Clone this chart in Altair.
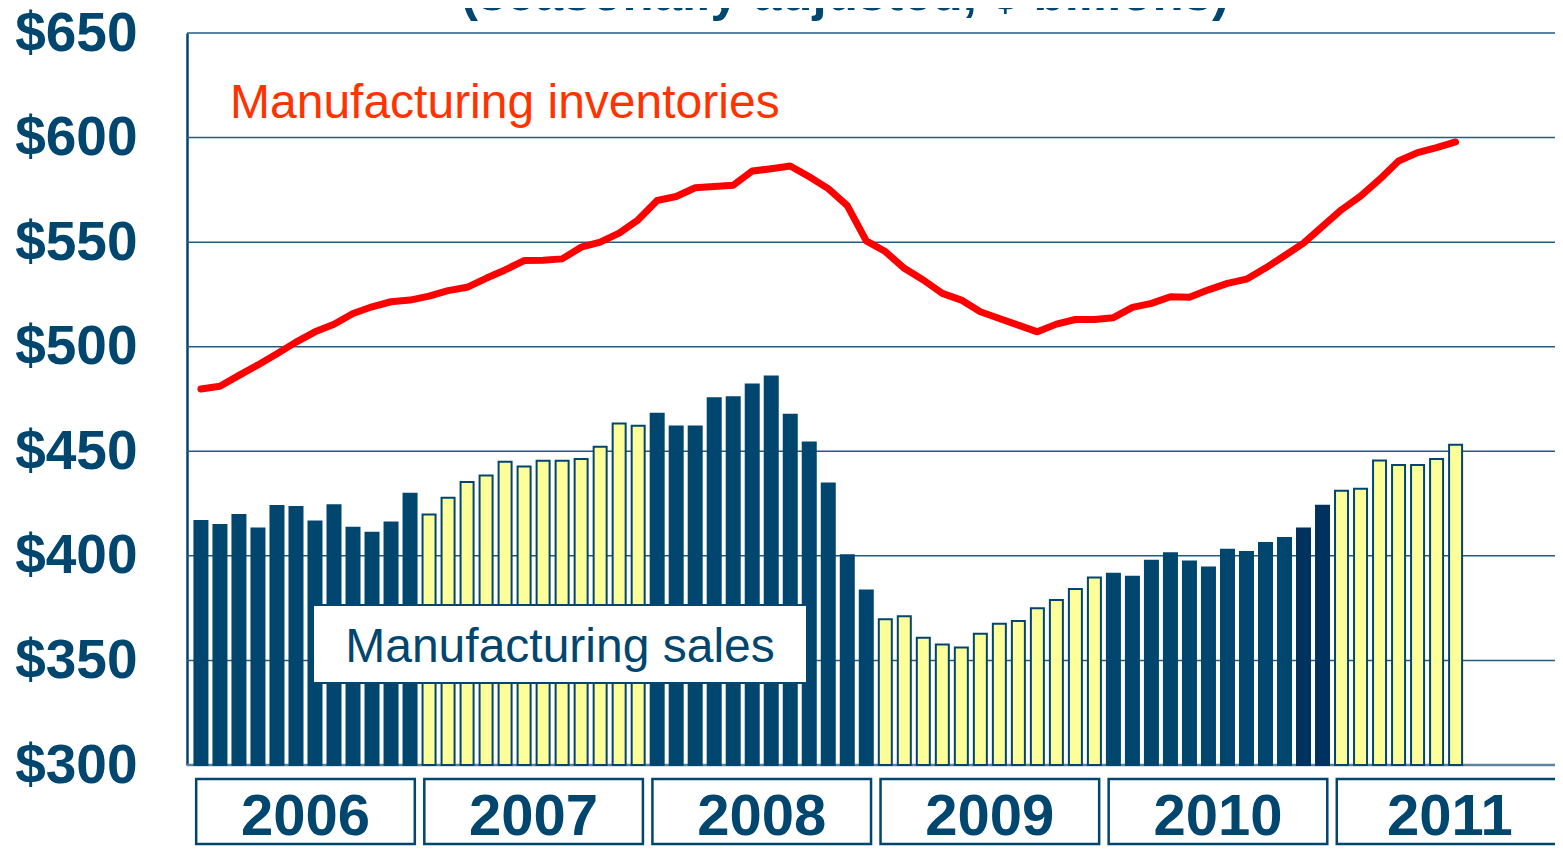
import altair as alt
import pandas as pd

# ---- data ----
years = [2006, 2007, 2008, 2009, 2010, 2011]
sales = [
    416.7, 414.8, 419.5, 413.1, 423.8, 423.4, 416.4, 424.2, 413.4, 411.0, 415.9, 429.7,   # 2006
    419.8, 427.8, 435.3, 438.4, 445.0, 442.7, 445.5, 445.5, 446.3, 452.2, 463.3, 462.2,   # 2007
    467.9, 461.9, 461.9, 475.4, 475.8, 481.9, 485.7, 467.5, 454.2, 434.6, 400.3, 383.4,   # 2008
    369.7, 371.1, 360.9, 357.6, 356.2, 362.8, 367.5, 368.9, 374.9, 378.9, 384.1, 389.7,   # 2009
    391.5, 390.0, 397.7, 401.2, 397.3, 394.4, 402.9, 401.9, 406.1, 408.5, 413.1, 423.9,   # 2010
    431.1, 432.1, 445.6, 443.4, 443.4, 446.3, 453.1,                                      # 2011
]
inventories = [
    479.8, 481.1, 486.3, 491.3, 496.6, 502.2, 507.1, 510.7, 515.9, 519.1, 521.5, 522.3,   # 2006
    524.2, 526.8, 528.4, 532.7, 536.7, 541.2, 541.3, 542.0, 547.6, 550.0, 554.3, 560.7,   # 2007
    569.9, 571.8, 576.0, 576.6, 577.2, 584.0, 585.1, 586.4, 581.3, 575.6, 567.5, 550.6,   # 2008
    545.5, 537.5, 531.9, 525.5, 522.3, 516.7, 513.5, 510.3, 507.1, 510.8, 513.0, 513.0,   # 2009
    513.9, 518.8, 520.7, 523.9, 523.6, 527.2, 530.3, 532.3, 537.6, 543.5, 549.5, 557.5,   # 2010
    565.5, 572.0, 580.0, 588.8, 592.8, 595.2, 597.9,                                      # 2011
]
darker_months = ["2010-11", "2010-12"]
y_ticks = [300, 350, 400, 450, 500, 550, 600, 650]
TITLE = "(seasonally adjusted, $ billions)"
INV_LABEL = "Manufacturing inventories"
SALES_LABEL = "Manufacturing sales"

NAVY = "#00466e"
DARKER = "#00325f"
YELLOW = "#ffff99"
RED = "#ff0000"
GRID = "#245b80"
BASELINE = "#5e829c"
FONT = "Liberation Sans"

rows = []
for i, (s, v) in enumerate(zip(sales, inventories)):
    yr = years[0] + i // 12
    mo = i % 12 + 1
    key = f"{yr}-{mo:02d}"
    if key in darker_months:
        shade = "darker"
    elif (yr - years[0]) % 2 == 0:
        shade = "dark"
    else:
        shade = "light"
    rows.append({"idx": i, "sales": s, "inv": v, "shade": shade, "base": 300})
df = pd.DataFrame(rows)

ydf = pd.DataFrame({
    "year": [str(y) for y in years],
    "x0": [12 * k - 0.25 for k in range(len(years))],
    "x1": [12 * k + 11.25 if k < len(years) - 1 else 72.5 for k in range(len(years))],
})
ydf["xc"] = [(a + b) / 2 if k < len(years) - 1 else 12 * k + 5.7
             for k, (a, b) in enumerate(zip(ydf["x0"], ydf["x1"]))]

gdf = pd.DataFrame({"v": y_ticks,
                    "kind": ["base" if t == y_ticks[0] else "grid" for t in y_ticks]})

PLOT_W = 1368
PLOT_H = 732
PAD = {"left": 179, "top": 25, "right": 0, "bottom": 81}
xscale = alt.Scale(domain=[-0.47, -0.47 + PLOT_W / 19.15], nice=False, zero=False)
yscale = alt.Scale(domain=[300, 650], nice=False, zero=False)

xaxis = alt.Axis(labels=False, ticks=False, grid=False, title=None, domain=False)
yaxis = alt.Axis(values=y_ticks, labelExpr="'$' + datum.value", title=None,
                 labelFont=FONT, labelFontSize=55, labelFontWeight="bold",
                 labelColor=NAVY, labelPadding=50, ticks=False, tickSize=0,
                 labelOverlap=False, domainColor=NAVY, domainWidth=2.5, grid=False)

# horizontal grid lines running to the right edge of the picture
grid = alt.Chart(gdf).mark_rule().encode(
    y=alt.Y("v:Q", scale=yscale, axis=yaxis),
    x=alt.value(0), x2=alt.value(PLOT_W),
    color=alt.Color("kind:N", scale=alt.Scale(domain=["grid", "base"], range=[GRID, BASELINE]),
                    legend=None),
    strokeWidth=alt.StrokeWidth("kind:N", scale=alt.Scale(domain=["grid", "base"], range=[1.5, 2.5]),
                                legend=None),
)

base = alt.Chart(df)

bars = base.mark_bar(size=13, strokeWidth=2).encode(
    x=alt.X("idx:Q", scale=xscale, axis=xaxis),
    y=alt.Y("sales:Q", scale=yscale, axis=yaxis),
    y2="base:Q",
    fill=alt.Fill("shade:N", scale=alt.Scale(domain=["dark", "darker", "light"],
                                             range=[NAVY, DARKER, YELLOW]), legend=None),
    stroke=alt.Stroke("shade:N", scale=alt.Scale(domain=["dark", "darker", "light"],
                                                 range=[NAVY, DARKER, NAVY]), legend=None),
)

line = base.mark_line(color=RED, strokeWidth=7, strokeCap="round", strokeJoin="round").encode(
    x=alt.X("idx:Q", scale=xscale, axis=xaxis),
    y=alt.Y("inv:Q", scale=yscale, axis=yaxis),
)

one = alt.Chart(pd.DataFrame({"t": [0]}))

inv_label = one.mark_text(text=INV_LABEL, font=FONT, fontSize=48, color="#ff3300",
                          align="left", baseline="alphabetic").encode(
    x=alt.value(43), y=alt.value(85))

sales_box = one.mark_rect(fill="white", stroke=NAVY, strokeWidth=2).encode(
    x=alt.value(126), x2=alt.value(620), y=alt.value(572), y2=alt.value(650))

sales_text = one.mark_text(text=SALES_LABEL, font=FONT, fontSize=48, color=NAVY,
                           align="center", baseline="alphabetic").encode(
    x=alt.value(373), y=alt.value(629))

title = one.mark_text(text=TITLE, font=FONT, fontSize=51, fontWeight="bold", color=NAVY,
                      align="center", baseline="alphabetic").encode(
    x=alt.value(658), y=alt.value(-23))

ych = alt.Chart(ydf)
year_boxes = ych.mark_rect(fill="white", stroke=NAVY, strokeWidth=2.5).encode(
    x=alt.X("x0:Q", scale=xscale, axis=xaxis), x2="x1:Q",
    y=alt.value(746), y2=alt.value(PLOT_H + PAD["bottom"] - 2))
year_text = ych.mark_text(font=FONT, fontSize=58, fontWeight="bold", color=NAVY,
                          align="center", baseline="alphabetic").encode(
    x=alt.X("xc:Q", scale=xscale, axis=xaxis), y=alt.value(802), text="year:N")

chart = alt.layer(
    grid, bars, line, inv_label, sales_box, sales_text, year_boxes, year_text, title
).resolve_scale(color="independent", stroke="independent").properties(
    width=PLOT_W, height=PLOT_H,
    autosize=alt.AutoSizeParams(type="none"),
    padding=PAD,
    background="white",
).configure_view(stroke=None)

chart.save("out.html", embed_options={"renderer": "svg", "actions": False})
